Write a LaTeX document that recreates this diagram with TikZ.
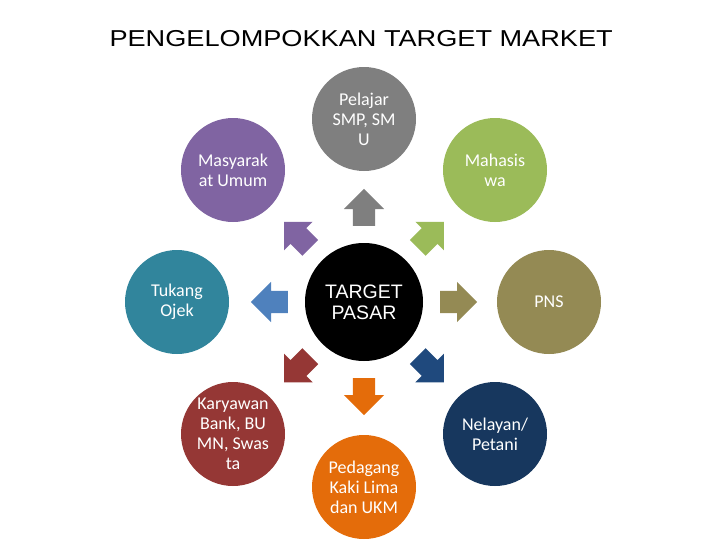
\documentclass[tikz,border=0pt]{standalone}
\usepackage{fontspec}
\setmainfont{Liberation Sans}
\newfontfamily\isifont{Carlito}
\usetikzlibrary{shapes.arrows,calc}
\definecolor{abu}{HTML}{7F7F7F}
\definecolor{hijau}{HTML}{9BBB59}
\definecolor{zaitun}{HTML}{948A54}
\definecolor{biru}{HTML}{1F497D}
\definecolor{laut}{HTML}{17375E}
\definecolor{jingga}{HTML}{E46C0A}
\definecolor{merah}{HTML}{953735}
\definecolor{birumuda}{HTML}{4F81BD}
\definecolor{toska}{HTML}{31859C}
\definecolor{ungu}{HTML}{8064A2}
\begin{document}
\begin{tikzpicture}[x=1pt,y=-1pt,
  segmen/.style={circle,minimum size=104pt,inner sep=0pt,text=white,align=center,
    font=\isifont\fontsize{18}{20}\selectfont},
  panah/.style={single arrow,inner xsep=0pt,inner ysep=11pt,minimum height=37pt,
    single arrow head extend=9pt,anchor=tail}]
\useasboundingbox (0,0) rectangle (728,546);
\node[anchor=base west,font=\fontsize{23}{28}\selectfont] (judul) at (106,46) {\scalebox{1.18}[1]{PENGELOMPOKKAN TARGET MARKET}};
\node[circle,fill=black,minimum size=118pt,inner sep=0pt,text=white,align=center,
  font=\fontsize{19.5}{21}\selectfont] (pasar) at (364,302) {TARGET\\PASAR};
\node[segmen,fill=abu] (pelajar) at (364,119) {Pelajar\\SMP, SM\\U};
\node[segmen,fill=hijau] (mahasiswa) at (495,170) {Mahasis\\wa};
\node[segmen,fill=zaitun] (pns) at (549,302) {PNS};
\node[segmen,fill=laut] (nelayan) at (495,434) {Nelayan/\\Petani};
\node[segmen,fill=jingga] (pedagang) at (364,487) {Pedagang\\Kaki Lima\\dan UKM};
\node[segmen,fill=merah] (karyawan) at (233,434) {Karyawan\\Bank, BU\\MN, Swas\\ta};
\node[segmen,fill=toska] (tukang) at (177,302) {Tukang\\Ojek};
\node[segmen,fill=ungu] (masyarakat) at (233,170) {Masyarak\\at Umum};
\node[panah,fill=abu,rotate=90] (ke-pelajar) at ($(pasar)!76pt!(pelajar)$) {};
\node[panah,fill=hijau,rotate=45] (ke-mahasiswa) at ($(pasar)!76pt!(mahasiswa)$) {};
\node[panah,fill=zaitun,rotate=0] (ke-pns) at ($(pasar)!76pt!(pns)$) {};
\node[panah,fill=biru,rotate=-45] (ke-nelayan) at ($(pasar)!76pt!(nelayan)$) {};
\node[panah,fill=jingga,rotate=-90] (ke-pedagang) at ($(pasar)!76pt!(pedagang)$) {};
\node[panah,fill=merah,rotate=-135] (ke-karyawan) at ($(pasar)!76pt!(karyawan)$) {};
\node[panah,fill=birumuda,rotate=180] (ke-tukang) at ($(pasar)!76pt!(tukang)$) {};
\node[panah,fill=ungu,rotate=135] (ke-masyarakat) at ($(pasar)!76pt!(masyarakat)$) {};
\end{tikzpicture}
\end{document}
